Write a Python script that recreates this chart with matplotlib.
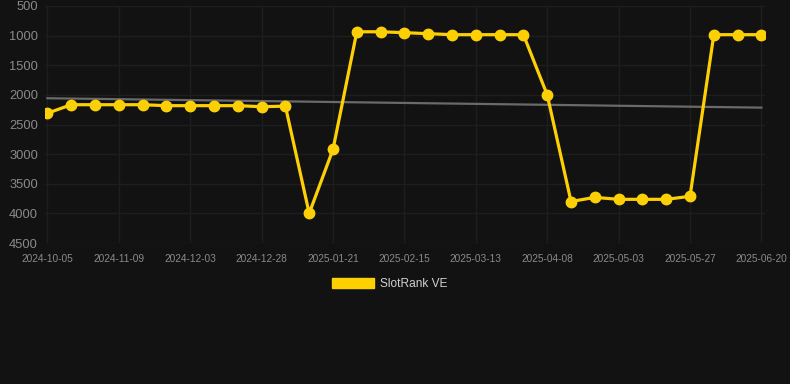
import numpy as np
import matplotlib.pyplot as plt
from matplotlib.patches import Patch

plt.rcParams['font.family'] = ['Liberation Sans', 'DejaVu Sans']

# SlotRank VE history (lower rank number is better, axis is inverted)
ranks = [2310, 2166, 2166, 2166, 2166, 2182, 2182, 2182, 2182, 2200, 2190,
         4000, 2920, 935, 935, 950, 967, 984, 984, 984, 984,
         2000, 3800, 3730, 3763, 3763, 3763, 3712, 984, 984, 984]
date_labels = ["2024-10-05", "2024-11-09", "2024-12-03", "2024-12-28",
               "2025-01-21", "2025-02-15", "2025-03-13", "2025-04-08",
               "2025-05-03", "2025-05-27", "2025-06-20"]
y_ticks = [500, 1000, 1500, 2000, 2500, 3000, 3500, 4000, 4500]

bg = "#121212"
gold = "#FFD000"

x = np.arange(len(ranks))
slope, icpt = np.polyfit(x, ranks, 1)

fig = plt.figure(figsize=(7.9, 3.84), dpi=100, facecolor=bg)
ax = fig.add_axes([45 / 790, 1 - 243 / 384, 720 / 790, 237 / 384], facecolor=bg)

ax.plot(x, slope * x + icpt, color="#6a6a6a", lw=1.6, zorder=2)
ax.plot(x, ranks, color=gold, lw=2.3, marker="o", markersize=7.5, zorder=3)

ax.set_ylim(4500, 500)
ax.set_xlim(-0.1, 30.15)
ax.set_yticks(y_ticks)
ax.set_xticks(x[::3])
ax.set_xticklabels(date_labels)
ax.grid(True, color="#1e1e1e", lw=1)
ax.set_axisbelow(True)
for s in ax.spines.values():
    s.set_visible(False)
ax.tick_params(axis="y", length=0, pad=5, labelsize=9.3, labelcolor="#8a8a8a")
ax.tick_params(axis="x", length=0, pad=8, labelsize=7.3, labelcolor="#8a8a8a")

fig.legend(handles=[Patch(color=gold, label="SlotRank VE")],
           loc="center", bbox_to_anchor=(390 / 790, 1 - 284 / 384),
           frameon=False, fontsize=8.6, labelcolor="#d0d0d0",
           handlelength=3.5, handleheight=1.0, handletextpad=0.5)

fig.savefig("out.png", dpi=100, facecolor=bg)
